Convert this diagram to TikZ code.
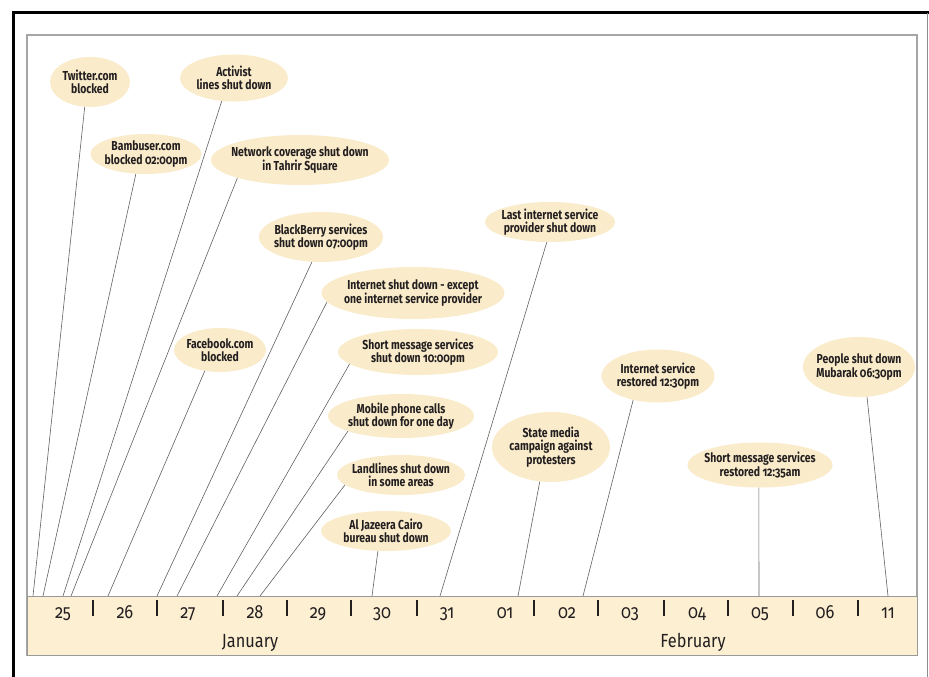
\documentclass[tikz,border=0pt]{standalone}
\usepackage{fontspec}
\setmainfont{Fira Sans}[FakeStretch=0.86, Numbers=OldStyle]
\newfontfamily\evfont{Fira Sans}[FakeStretch=0.8, Numbers=OldStyle]
\usetikzlibrary{shapes.geometric}
\definecolor{evfill}{HTML}{FAECCA}
\definecolor{bandfill}{HTML}{FCEFD2}
\definecolor{ink}{HTML}{231F20}
\begin{document}
\begin{tikzpicture}[x=1pt,y=-1pt,
  evt/.style={ellipse, fill=evfill, draw=none, inner sep=0pt},
  evtext/.style={align=center, font=\evfont\fontsize{13}{13.4}\selectfont\bfseries, text=ink, inner sep=0pt},
  conn/.style={draw=black!62, line width=0.6pt},
  datelbl/.style={font=\fontsize{19}{22}\selectfont, text=ink, anchor=base, inner sep=0pt},
  monthlbl/.style={font=\fontsize{19}{22}\selectfont, text=ink, anchor=base, inner sep=0pt},
  daytick/.style={draw=ink, line width=1.3pt}]
\useasboundingbox (0,0) rectangle (929,677);
\fill[white] (0,0) rectangle (929,677);
% outer frame
\draw[line width=3pt] (13,677) -- (13,13) -- (929,13);
\draw[black!45, line width=0.8pt] (927.5,13) -- (927.5,677);
% panel and date band
\draw[black!35, line width=1.2pt] (27,35) rectangle (917,655);
\draw[black!40, fill=bandfill, line width=1pt] (27,596) rectangle (917,655);

% day labels
\foreach \d/\x in {25/63,26/125,27/188,28/255,29/318,30/382,31/447,01/505,02/567,03/630,04/697,05/760,06/825,11/888}
  \node[datelbl] (d\d) at (\x,618) {\d};
\foreach \x in {93,157,223,287,351,417,534,598,664,728,793,858}
  \draw[daytick] (\x,600) -- (\x,616);
\node[monthlbl] (jan) at (250,647) {January};
\node[monthlbl] (feb) at (693,647) {February};

% events
\node[evt, minimum width=80pt,  minimum height=50pt] (e1)  at (90,82)  {};
\node[evt, minimum width=108pt, minimum height=47pt] (e2)  at (234,78) {};
\node[evt, minimum width=111pt, minimum height=40pt] (e3)  at (146,154) {};
\node[evt, minimum width=178pt, minimum height=50pt] (e4)  at (300,160) {};
\node[evt, minimum width=124pt, minimum height=50pt] (e5)  at (321,237) {};
\node[evt, minimum width=183pt, minimum height=52pt] (e6)  at (413,293) {};
\node[evt, minimum width=92pt,  minimum height=44pt] (e7)  at (220,350) {};
\node[evt, minimum width=160pt, minimum height=46pt] (e8)  at (418,352) {};
\node[evt, minimum width=146pt, minimum height=44pt] (e9)  at (401,416) {};
\node[evt, minimum width=128pt, minimum height=40pt] (e10) at (401,475) {};
\node[evt, minimum width=130pt, minimum height=40pt] (e11) at (386,531) {};
\node[evt, minimum width=130pt, minimum height=40pt] (e12) at (550,222) {};
\node[evt, minimum width=118pt, minimum height=70pt] (e13) at (551,447) {};
\node[evt, minimum width=113pt, minimum height=53pt] (e14) at (658,376) {};
\node[evt, minimum width=145pt, minimum height=45pt] (e15) at (760,465) {};
\node[evt, minimum width=112pt, minimum height=60pt] (e16) at (859,367) {};

\node[evtext] (t1)  at (e1)  {Twitter.com\\blocked};
\node[evtext] (t2)  at (e2)  {Activist\\lines shut down};
\node[evtext] (t3)  at (e3)  {Bambuser.com\\blocked 02:00pm};
\node[evtext] (t4)  at (e4)  {Network coverage shut down\\in Tahrir Square};
\node[evtext] (t5)  at (e5)  {BlackBerry services\\shut down 07:00pm};
\node[evtext] (t6)  at (e6)  {Internet shut down - except\\one internet service provider};
\node[evtext] (t7)  at (e7)  {Facebook.com\\blocked};
\node[evtext] (t8)  at (e8)  {Short message services\\shut down 10:00pm};
\node[evtext] (t9)  at (e9)  {Mobile phone calls\\shut down for one day};
\node[evtext] (t10) at (e10) {Landlines shut down\\in some areas};
\node[evtext] (t11) at (e11) {Al Jazeera Cairo\\bureau shut down};
\node[evtext] (t12) at (e12) {Last internet service\\provider shut down};
\node[evtext] (t13) at (e13) {State media\\campaign against\\protesters};
\node[evtext] (t14) at (e14) {Internet service\\restored 12:30pm};
\node[evtext] (t15) at (e15) {Short message services\\restored 12:35am};
\node[evtext] (t16) at (e16) {People shut down\\Mubarak 06:30pm};

% connector ends on the band
\foreach \i/\x in {1/33,2/63,3/43,4/71,5/157,6/177,7/108,8/217,9/237,10/260,11/372,12/440,13/518,14/583,15/759,16/888}
  \coordinate (b\i) at (\x,596);

\draw[conn] (e1.258.6) -- (b1);
\draw[conn] (e2.242.3) -- (b2);
\draw[conn] (e3.243) -- (b3);
\draw[conn] (e4.196) -- (b4);
\draw[conn] (e5.250) -- (b5);
\draw[conn] (e6.186) -- (b6);
\draw[conn] (e7.234) -- (b7);
\draw[conn] (e8.190) -- (b8);
\draw[conn] (e9.196) -- (b9);
\draw[conn] (e10.190) -- (b10);
\draw[conn] (e11.248) -- (b11);
\draw[conn] (e12.261) -- (b12);
\draw[conn] (e13.252) -- (b13);
\draw[conn] (e14.224) -- (b14);
\draw[conn] (e15.267) -- (b15);
\draw[conn] (e16.285) -- (b16);
\end{tikzpicture}
\end{document}
